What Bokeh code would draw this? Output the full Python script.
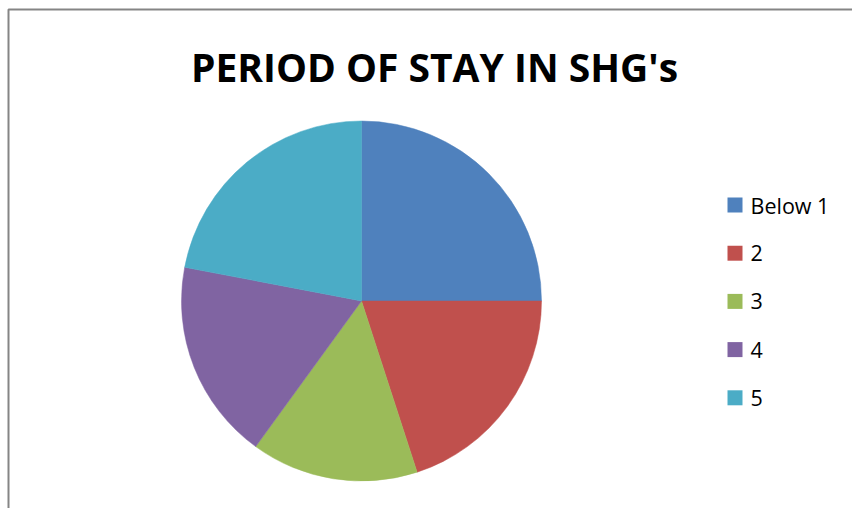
import numpy as np
from bokeh.plotting import figure
from bokeh.models import ColumnDataSource, Range1d, BoxAnnotation
from bokeh.core.properties import value
from bokeh.embed import file_html
from bokeh.resources import INLINE

title_text = "PERIOD OF STAY IN SHG's"
categories = ["Below 1", "2", "3", "4", "5"]
shares = [25, 20, 15, 18, 22]
colors = ["#4F81BD", "#C0504D", "#9BBB59", "#8064A2", "#4BACC6"]

W, H = 852, 508
p = figure(width=W, height=H, output_backend="svg", toolbar_location=None,
           x_range=Range1d(0, W), y_range=Range1d(0, H), min_border=0,
           x_axis_location=None, y_axis_location=None)
p.grid.visible = False
p.outline_line_color = None
p.background_fill_color = "white"
p.border_fill_color = "white"

# pie
frac = np.array(shares, dtype=float) / sum(shares)
cum = np.cumsum(frac)
starts = np.r_[0.0, cum[:-1]]
src = ColumnDataSource(dict(
    cat=categories,
    start=np.pi / 2 - 2 * np.pi * starts,
    end=np.pi / 2 - 2 * np.pi * cum,
    color=colors,
))
cx, cy, r = 361, H - 300.5, 180
p.wedge(x=cx, y=cy, radius=r, start_angle="start", end_angle="end",
        direction="clock", fill_color="color", line_color="color",
        line_width=0.5, source=src)

# title
p.text(x=[434], y=[H - 66], text=[title_text], text_align="center",
       text_baseline="alphabetic", text_font=value("Open Sans"),
       text_font_style="bold", text_font_size="39px", text_color="black")

# legend (manual)
idx = np.arange(len(categories))
leg_y = H - (204.5 + 48.2 * idx)
lsrc = ColumnDataSource(dict(y=leg_y, cat=categories, color=colors))
p.rect(x=734.5, y="y", width=15, height=15, fill_color="color",
       line_color=None, source=lsrc)
p.text(x=750, y="y", text="cat", text_baseline="middle", text_align="left",
       text_font=value("Open Sans"), text_font_size="21.5px",
       text_color="black", source=lsrc)

# chart area border (left and top edges visible)
p.add_layout(BoxAnnotation(left=8, right=W + 50, top=H - 9, bottom=-50,
                           fill_color=None, fill_alpha=0,
                           line_color="#858585", line_alpha=1.0,
                           line_width=2))

open("out.html", "w").write(file_html(p, INLINE))
